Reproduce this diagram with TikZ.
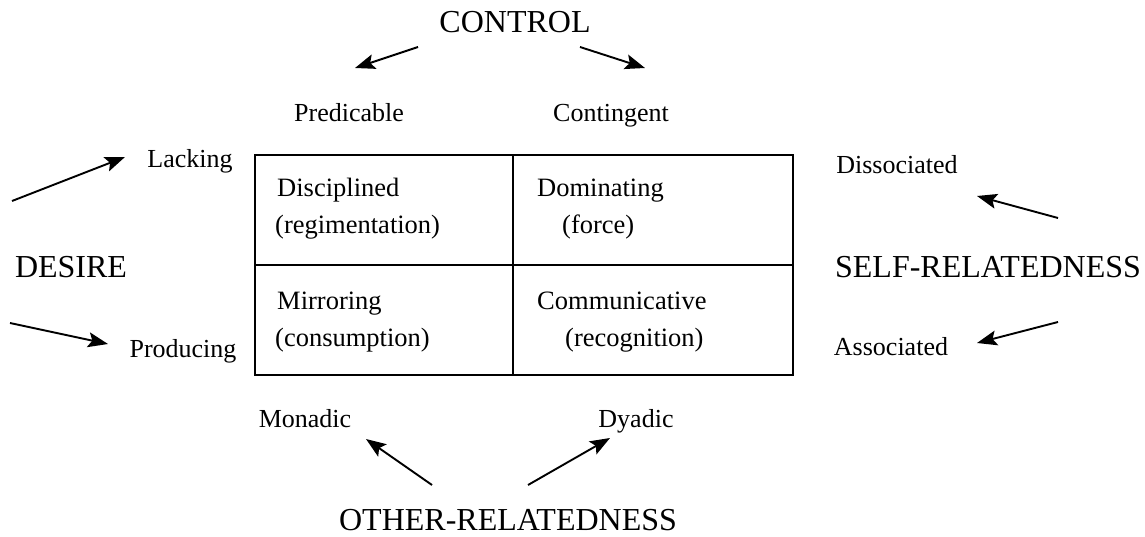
\documentclass[tikz,border=0pt]{standalone}
\usepackage{fontspec}
\setmainfont{Liberation Serif}
\usetikzlibrary{arrows.meta}
\begin{document}
\begin{tikzpicture}[x=1pt,y=-1pt,
  big/.style={font=\fontsize{32}{36}\selectfont, anchor=base, inner sep=0pt},
  small/.style={font=\fontsize{26}{30}\selectfont, anchor=base, inner sep=0pt},
  cell/.style={font=\fontsize{26.5}{30}\selectfont, anchor=base west, inner sep=0pt},
  arr/.style={line width=1.9pt, -{Stealth[length=20pt,width=15pt,inset=4pt]}},
  gridline/.style={line width=1.3pt}]
\useasboundingbox (0,0) rectangle (1145,537);

% grid
\coordinate (tl) at (255,155);
\coordinate (br) at (793,375);
\coordinate (ml) at (255,265);
\coordinate (mr) at (793,265);
\coordinate (mt) at (513,155);
\coordinate (mb) at (513,375);
\draw[gridline] (tl) rectangle (br);
\draw[gridline] (ml) -- (mr);
\draw[gridline] (mt) -- (mb);

% cell texts
\node[cell] (disc) at (277,197) {Disciplined};
\node[cell] (regi) at (275,234) {(regimentation)};
\node[cell] (domi) at (537,197) {Dominating};
\node[cell] (forc) at (562,234) {(force)};
\node[cell] (mirr) at (277,309) {Mirroring};
\node[cell] (cons) at (275,346) {(consumption)};
\node[cell] (comm) at (537,309) {Communicative};
\node[cell] (reco) at (565,346) {(recognition)};

% big labels
\node[big] (control) at (515,33) {CONTROL};
\node[big] (desire) at (71,277) {DESIRE};
\node[big] (self) at (988,277) {SELF-RELATEDNESS};
\node[big] (other) at (508,530) {OTHER-RELATEDNESS};

% small labels
\node[small] (pred) at (349,122) {Predicable};
\node[small] (cont) at (611,122) {Contingent};
\node[small] (lack) at (190,168) {Lacking};
\node[small] (prod) at (183,357) {Producing};
\node[small] (diss) at (897,174) {Dissociated};
\node[small] (asso) at (891,355) {Associated};
\node[small] (mona) at (305,427) {Monadic};
\node[small] (dyad) at (636,427) {Dyadic};

% arrow end points
\coordinate (c1s) at (418,47);  \coordinate (c1e) at (355,68);
\coordinate (c2s) at (580,47);  \coordinate (c2e) at (645,68);
\coordinate (d1s) at (12,201);  \coordinate (d1e) at (125,157);
\coordinate (d2s) at (10,323);  \coordinate (d2e) at (108,344);
\coordinate (s1s) at (1058,218); \coordinate (s1e) at (977,196);
\coordinate (s2s) at (1058,322); \coordinate (s2e) at (977,343);
\coordinate (o1s) at (432,485); \coordinate (o1e) at (366,439);
\coordinate (o2s) at (528,485); \coordinate (o2e) at (610,438);

\draw[arr] (c1s) -- (c1e);
\draw[arr] (c2s) -- (c2e);
\draw[arr] (d1s) -- (d1e);
\draw[arr] (d2s) -- (d2e);
\draw[arr] (s1s) -- (s1e);
\draw[arr] (s2s) -- (s2e);
\draw[arr] (o1s) -- (o1e);
\draw[arr] (o2s) -- (o2e);
\end{tikzpicture}
\end{document}
